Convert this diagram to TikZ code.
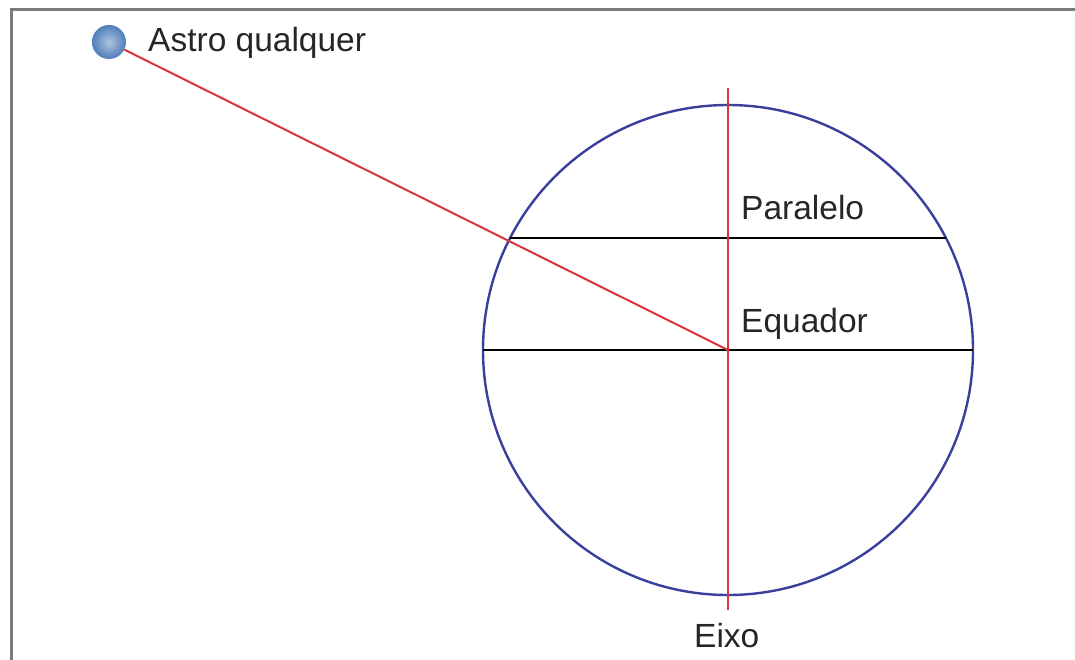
\documentclass[tikz,border=0pt]{standalone}
\usepackage{fontspec}
\setmainfont{Liberation Sans}
\definecolor{frame}{HTML}{7A7A7A}
\definecolor{globe}{HTML}{3A3F9C}
\definecolor{axisred}{HTML}{D8343C}
\definecolor{starblue}{HTML}{4F7DBA}
\begin{document}
\begin{tikzpicture}[x=1pt,y=-1pt,
  lbl/.style={font=\fontsize{33.5}{40}\selectfont, inner sep=0pt, anchor=base west, text=black!85},
  redline/.style={draw=axisred, line width=2pt},
  blackline/.style={draw=black, line width=2.4pt},
  globeline/.style={draw=globe, line width=2.4pt},
  astro/.style={circle, minimum size=34pt, inner sep=0pt, shade, inner color=starblue!45!white, outer color=starblue}]
\useasboundingbox (0,0) rectangle (1075,660);
% frame
\draw[frame, line width=3pt] (11,662) -- (11,10) -- (1077,10);
% globe
\coordinate (O) at (728,350);
\draw[globeline] (O) circle[radius=245];
% equator and parallel
\coordinate (eqL) at (483,350);
\coordinate (eqR) at (973,350);
\coordinate (paL) at (510.1,238);
\coordinate (paR) at (945.9,238);
\draw[blackline] (eqL) -- (eqR);
\draw[blackline] (paL) -- (paR);
% axis
\coordinate (axT) at (728,88);
\coordinate (axB) at (728,610);
\draw[redline] (axT) -- (axB);
% star
\node[astro] (star) at (109,42) {};
\draw[redline] (star) -- (O);
% labels
\node[lbl] (astrolbl) at (148,52) {Astro qualquer};
\node[lbl] (paralelo) at (741,220) {Paralelo};
\node[lbl] (equador) at (741,332) {Equador};
\node[lbl] (eixo) at (694,647) {Eixo};
\end{tikzpicture}
\end{document}
